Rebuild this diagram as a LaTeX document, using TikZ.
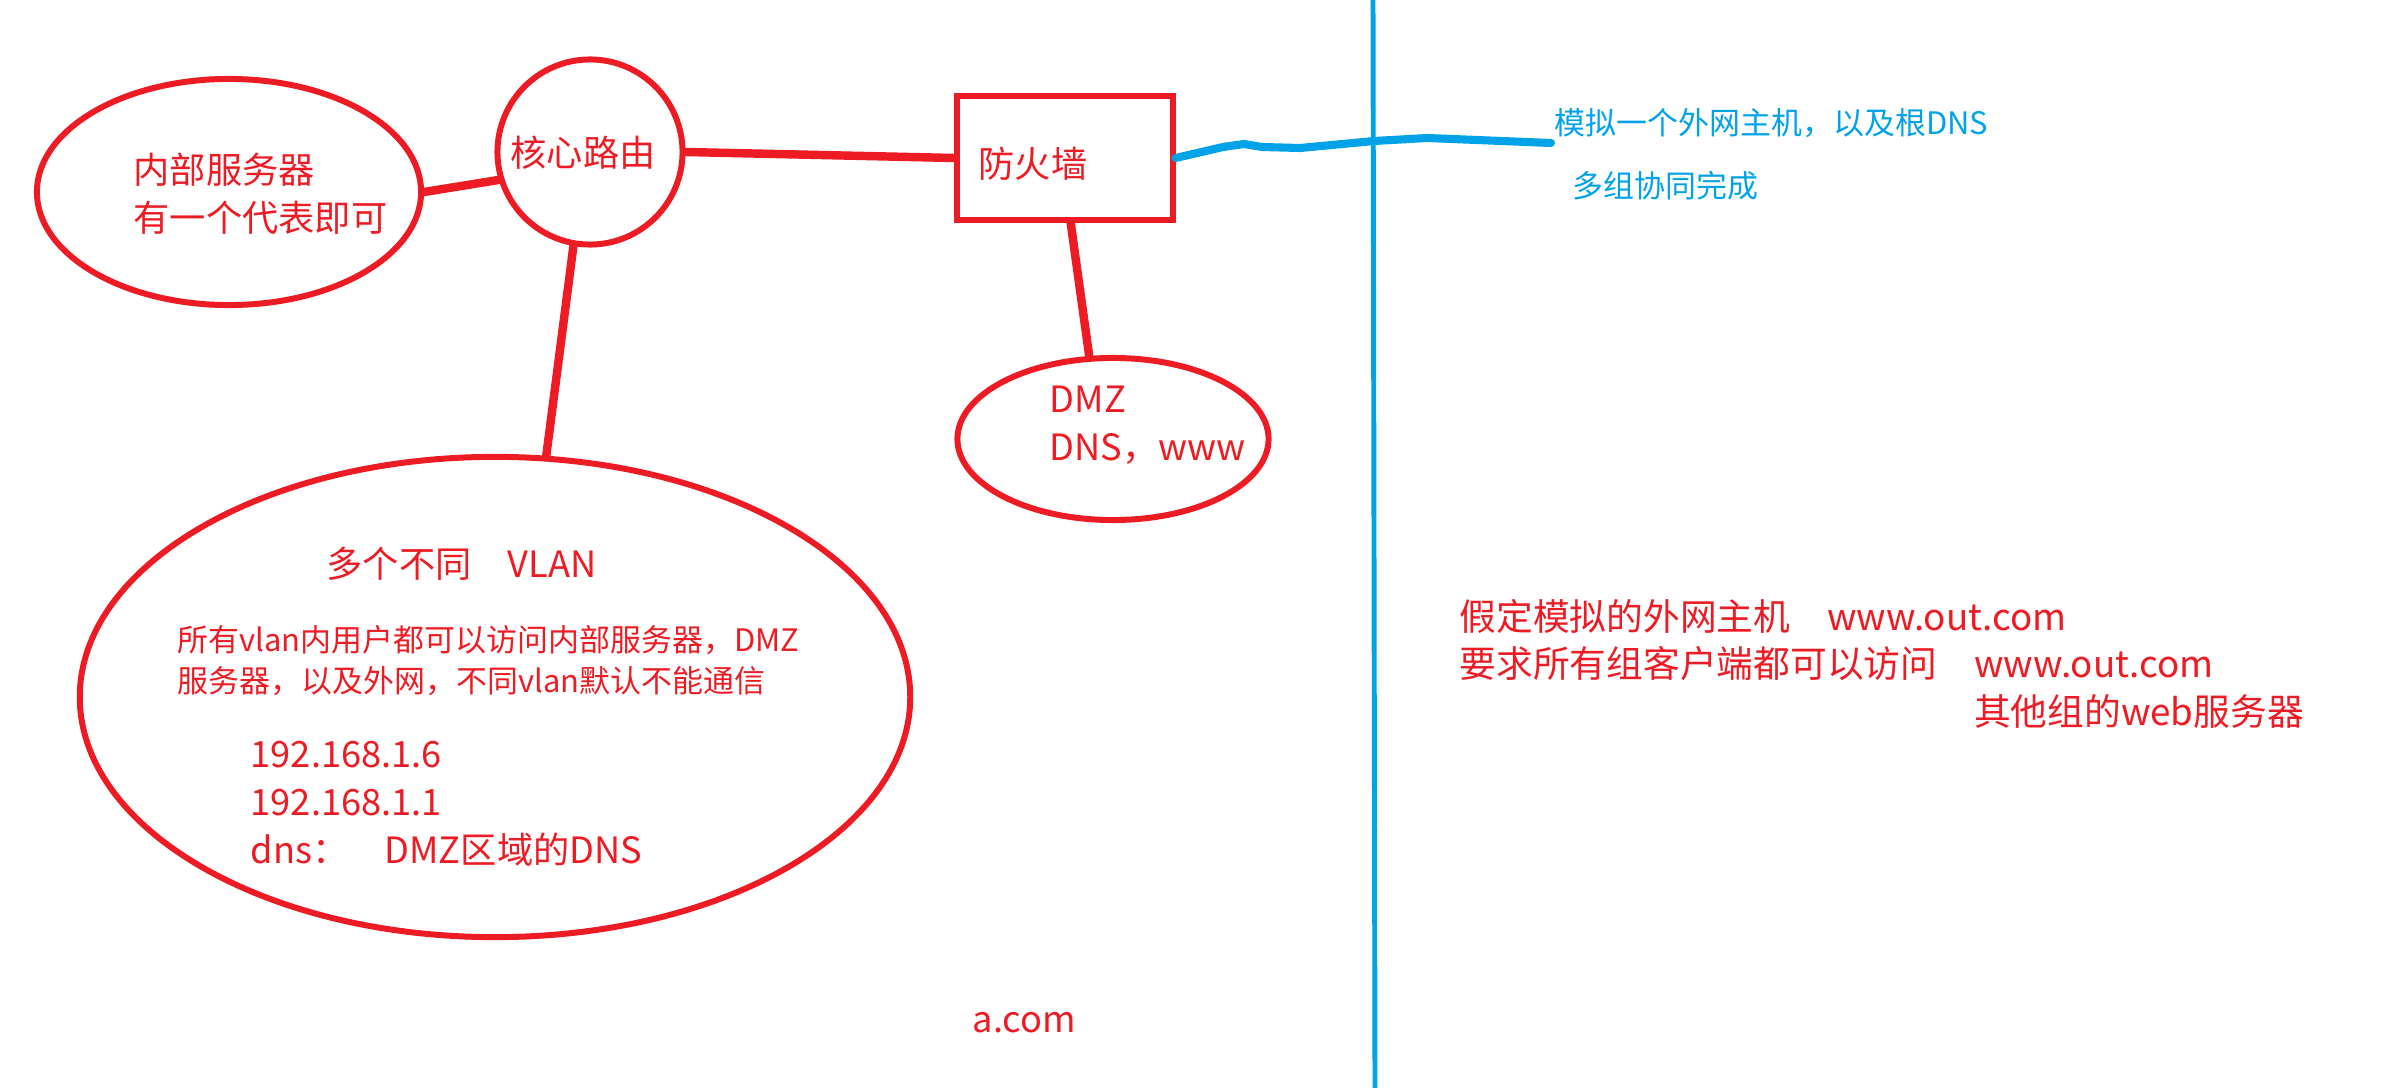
\documentclass[tikz,border=0pt]{standalone}
\usepackage{fontspec}
\setmainfont{Noto Sans CJK SC}
\usetikzlibrary{shapes.geometric,positioning}
\definecolor{pred}{RGB}{237,28,36}
\definecolor{pblue}{RGB}{0,162,232}

\begin{document}
\begin{tikzpicture}[x=0.01cm,y=-0.01cm,
  zone/.style={draw=pred,line width=1.7pt,ellipse,inner sep=0pt},
  wire/.style={draw=pred,line width=2.4pt,line cap=round},
  txt/.style={text=pred,inner sep=0pt,anchor=west,align=left,
    font=\fontsize{10.3pt}{13.6pt}\selectfont},
  small/.style={txt,font=\fontsize{8.8pt}{11.7pt}\selectfont},
  bluetxt/.style={small,text=pblue},
  rtxt/.style={txt,font=\fontsize{10.45pt}{13.4pt}\selectfont}]
\useasboundingbox (0,0) rectangle (2408,1088);
% inner servers
\node[zone,minimum width=3.84cm,minimum height=2.26cm] (inner) at (229,192) {};
\node[txt] (innerlbl) at (133,194) {内部服务器\\有一个代表即可};
% core router
\node[zone,minimum width=1.85cm,minimum height=1.85cm] (core) at (590,152) {};
\node[txt] (corelbl) at (510,153) {核心路由};
% firewall
\node[draw=pred,line width=1.7pt,minimum width=2.15cm,minimum height=1.23cm,
  inner sep=0pt] (fw) at (1065,158) {};
\node[txt] (fwlbl) at (978,164) {防火墙};
% DMZ
\node[zone,minimum width=3.11cm,minimum height=1.62cm] (dmz) at (1113,439) {};
\node[txt] (dmzlbl) at (1049,425) {DMZ\\DNS，www};
% VLAN
\node[zone,minimum width=8.3cm,minimum height=4.8cm] (vlan) at (495,697) {};
\node[txt] (vlantitle) at (326,564) {多个不同\quad VLAN};
\node[small] (vlannote) at (177,661) {所有vlan内用户都可以访问内部服务器，DMZ\\服务器，以及外网，不同vlan默认不能通信};
\node[txt] (vlanaddr) at (250,804) {192.168.1.6\\192.168.1.1\\dns：\quad DMZ区域的DNS};
\node[txt] (domain) at (972,1023) {a.com};
% links
\draw[wire] (inner.east) -- (core.197);
\draw[wire] (core.east) -- (fw.west);
\draw[wire] (fw.-85) -- (dmz.106);
\draw[wire] (core.-100) -- (vlan.78);
% outside
\draw[pblue,line width=1.4pt] (1373,0) -- (1375,1088);
\coordinate (outhost) at (1551,143);
\draw[pblue,line width=2.3pt,line cap=round,line join=round]
  (fw.east) -- (1223,147) -- (1244,144) -- (1262,147) -- (1300,148)
  -- (1374,141) -- (1427,138) -- (1477,140) -- (outhost);
\node[bluetxt] (outlbl) at (1554,123) {模拟一个外网主机，以及根DNS};
\node[bluetxt] (grouplbl) at (1572,186) {多组协同完成};
\node[rtxt] (outreq) at (1459,664) {假定模拟的外网主机\quad www.out.com\\要求所有组客户端都可以访问\quad www.out.com\\\phantom{要求所有组客户端都可以访问\quad}其他组的web服务器};
\end{tikzpicture}
\end{document}
